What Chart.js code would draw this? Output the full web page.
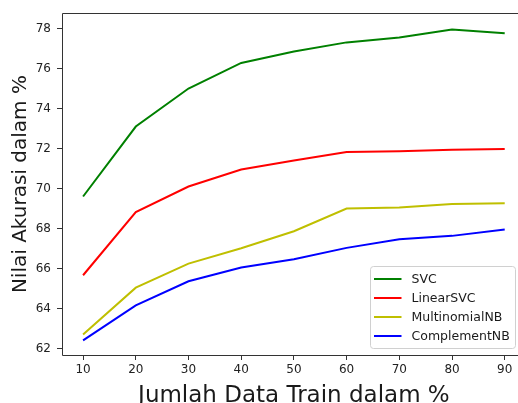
<!DOCTYPE html>
<html>
<head>
<meta charset="utf-8">
<script src="https://cdn.jsdelivr.net/npm/chart.js@4"></script>
<style>
html,body{margin:0;padding:0;overflow:hidden;background:#fff;width:518px;height:403px;}
canvas{display:block;}
</style>
</head>
<body>
<canvas id="c" width="518" height="403"></canvas>
<script>
const trainPct = [10, 20, 30, 40, 50, 60, 70, 80, 90];
const svc = [69.62, 73.12, 75.02, 76.3, 76.87, 77.33, 77.57, 77.98, 77.79];
const linearSvc = [65.68, 68.84, 70.12, 70.97, 71.42, 71.84, 71.88, 71.96, 71.99];
const multinomialNB = [62.72, 65.06, 66.26, 67.03, 67.88, 69.02, 69.07, 69.24, 69.28];
const complementNB = [62.42, 64.17, 65.38, 66.07, 66.48, 67.05, 67.48, 67.65, 67.97];
const yTicks = [62, 64, 66, 68, 70, 72, 74, 76, 78];
const xLabel = 'Jumlah Data Train dalam %';
const yLabel = 'Nilai Akurasi dalam %';

const pts = arr => arr.map((v, i) => ({x: trainPct[i], y: v}));
const font = 'DejaVu Sans';

const deco = {
  id: 'deco',
  afterDraw(chart) {
    const ctx = chart.ctx, a = chart.chartArea;
    const L = Math.round(a.left) + 0.5, T = Math.round(a.top) + 0.5, B = Math.round(a.bottom) + 0.5;
    ctx.save();
    ctx.strokeStyle = '#333';
    ctx.lineWidth = 1;
    ctx.beginPath();
    ctx.moveTo(518, T); ctx.lineTo(L, T); ctx.lineTo(L, B); ctx.lineTo(518, B);
    ctx.stroke();
    // axis titles
    ctx.fillStyle = '#1a1a1a';
    ctx.font = '23px "' + font + '"';
    ctx.textAlign = 'center';
    ctx.textBaseline = 'alphabetic';
    ctx.fillText(xLabel, (a.left + 525.8) / 2, 401.5);
    ctx.save();
    ctx.translate(26, (a.top + a.bottom) / 2);
    ctx.rotate(-Math.PI / 2);
    ctx.font = '20px "' + font + '"';
    ctx.fillText(yLabel, 0, 0);
    ctx.restore();
    // legend
    const lx = 370.5, ly = 266.5, lw = 145, lh = 82;
    ctx.beginPath();
    ctx.roundRect(lx, ly, lw, lh, 3);
    ctx.fillStyle = 'rgba(255,255,255,0.8)';
    ctx.fill();
    ctx.strokeStyle = '#d0d0d0';
    ctx.lineWidth = 1;
    ctx.stroke();
    ctx.font = '12.5px "' + font + '"';
    ctx.textAlign = 'left';
    ctx.textBaseline = 'middle';
    chart.data.datasets.forEach((ds, i) => {
      const y = 279 + i * 19;
      ctx.beginPath();
      ctx.moveTo(374, y);
      ctx.lineTo(401.5, y);
      ctx.strokeStyle = ds.borderColor;
      ctx.lineWidth = 2;
      ctx.stroke();
      ctx.fillStyle = '#1a1a1a';
      ctx.fillText(ds.label, 411.5, y + 0.5);
    });
    ctx.restore();
  }
};

new Chart(document.getElementById('c'), {
  type: 'line',
  data: {
    datasets: [
      {label: 'SVC', data: pts(svc), borderColor: '#008000'},
      {label: 'LinearSVC', data: pts(linearSvc), borderColor: '#ff0000'},
      {label: 'MultinomialNB', data: pts(multinomialNB), borderColor: '#bfbf00'},
      {label: 'ComplementNB', data: pts(complementNB), borderColor: '#0000ff'}
    ].map(d => Object.assign(d, {borderWidth: 2, pointRadius: 0, tension: 0, fill: false}))
  },
  options: {
    responsive: false,
    animation: false,
    devicePixelRatio: 1,
    layout: {padding: {top: 10, right: 0, left: 0, bottom: 0}},
    plugins: {legend: {display: false}, tooltip: {enabled: false}},
    scales: {
      x: {
        type: 'linear', min: 6, max: 92.52,
        afterBuildTicks: s => { s.ticks = trainPct.map(v => ({value: v})); },
        afterFit: s => { s.height = 48; },
        grid: {drawOnChartArea: false, drawTicks: true, tickLength: 5, tickColor: '#333'},
        border: {display: false},
        ticks: {color: '#222', font: {family: font, size: 12}, padding: 3, maxRotation: 0, autoSkip: false}
      },
      y: {
        type: 'linear', min: 61.69, max: 78.79,
        afterBuildTicks: s => { s.ticks = yTicks.map(v => ({value: v})); },
        afterFit: s => { s.width = 62; },
        grid: {drawOnChartArea: false, drawTicks: true, tickLength: 5, tickColor: '#333'},
        border: {display: false},
        ticks: {color: '#222', font: {family: font, size: 12}, padding: 6}
      }
    }
  },
  plugins: [deco]
});
</script>
</body>
</html>
